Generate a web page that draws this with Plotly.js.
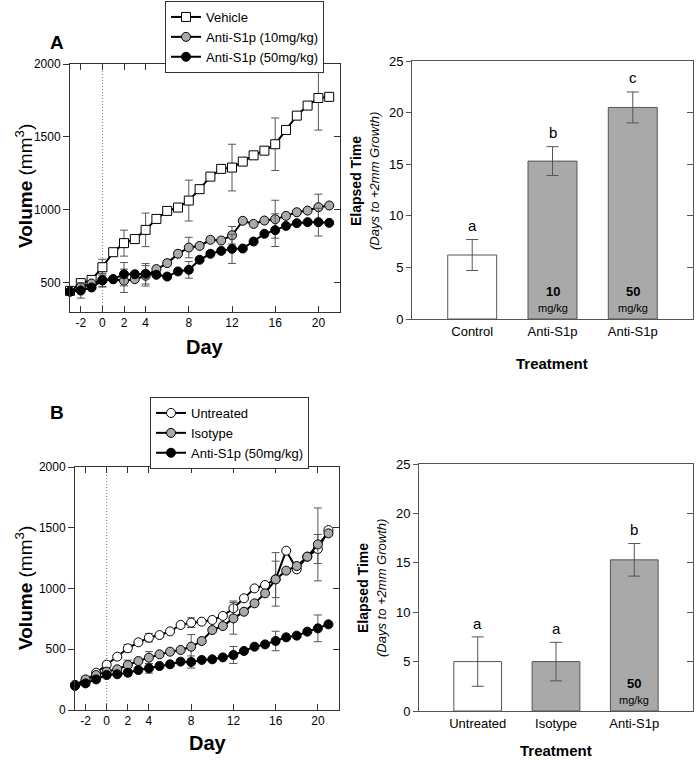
<!DOCTYPE html>
<html>
<head>
<meta charset="utf-8">
<script src="https://cdn.plot.ly/plotly-3.0.1.min.js"></script>
<style>html,body{margin:0;padding:0;background:#fff;}#chart{width:698px;height:761px;}</style>
</head>
<body>
<div id="chart"></div>
<script>
// ---------- DATA ----------
const days = [-3, -2, -1, 0, 1, 2, 3, 4, 5, 6, 7, 8, 9, 10, 11, 12, 13, 14, 15, 16, 17, 18, 19, 20, 21];
const dayTicks = [-2, 0, 2, 4, 8, 12, 16, 20];
const dayTickText = ['-2', '0', '2', '4', '8', '12', '16', '20'];

// Panel A growth curves (mm^3)
const vehicleA    = [445, 498, 520, 607, 710, 772, 800, 863, 938, 993, 1016, 1064, 1142, 1228, 1281, 1290, 1331, 1374, 1406, 1450, 1548, 1646, 1715, 1767, 1775];
const vehicleAErr = [null, 20, null, 55, null, 89, null, 115, null, null, null, 140, null, null, null, 160, null, null, null, 180, null, null, null, 220, null];
const dose10A     = [440, 470, 495, 520, 525, 514, 525, 548, 594, 635, 699, 742, 753, 795, 790, 826, 925, 904, 927, 936, 959, 984, 995, 1018, 1030];
const dose10AErr  = [null, 30, null, 45, null, 80, null, 70, null, null, null, 70, null, null, null, 60, null, null, null, 130, null, null, null, 90, null];
const dose50A     = [440, 447, 468, 516, 525, 559, 559, 562, 555, 543, 578, 589, 658, 699, 719, 733, 735, 783, 836, 861, 890, 909, 916, 916, 911];
const dose50AErr  = [null, 52, null, 45, null, 80, null, 70, null, null, null, 57, null, null, null, 100, null, null, null, 112, null, null, null, 95, null];

// Panel B growth curves (mm^3)
const untreatedB    = [206, 241, 307, 373, 439, 508, 557, 595, 617, 647, 700, 719, 727, 741, 774, 837, 919, 1001, 1029, 1075, 1311, 1158, 1262, 1325, 1481];
const untreatedBErr = [null, 20, null, 25, null, 30, null, 35, null, null, null, 40, null, null, null, 60, null, null, null, 150, null, null, null, 120, null];
const isotypeB      = [206, 252, 288, 316, 335, 370, 403, 431, 458, 480, 494, 521, 568, 658, 691, 754, 809, 878, 960, 1075, 1147, 1185, 1262, 1363, 1454];
const isotypeBErr   = [null, 25, null, 30, null, 40, null, 50, null, null, null, 100, null, null, null, 130, null, null, null, 220, null, null, null, 300, null];
const anti50B       = [198, 219, 252, 288, 294, 307, 329, 343, 362, 376, 398, 395, 412, 417, 433, 453, 486, 521, 540, 568, 598, 612, 645, 672, 705];
const anti50BErr    = [null, 20, null, 20, null, 25, null, 40, null, null, null, 50, null, null, null, 70, null, null, null, 80, null, null, null, 110, null];

// Bar charts: elapsed time (days to +2mm growth)
const barCatsA  = ['Control', 'Anti-S1p', 'Anti-S1p'];
const barMeansA = [6.2, 15.3, 20.5];
const barErrA   = [1.5, 1.4, 1.5];
const lettersA  = ['a', 'b', 'c'];
const dosesA    = ['', '10', '50'];

const barCatsB  = ['Untreated', 'Isotype', 'Anti-S1p'];
const barMeansB = [5.0, 5.0, 15.3];
const barErrB   = [2.5, 1.95, 1.65];
const lettersB  = ['a', 'a', 'b'];
const dosesB    = ['', '', '50'];

// ---------- HELPERS ----------
const W = 698, H = 761;
const px = v => v / W;
const py = v => 1 - v / H;
const FONT = 'Liberation Sans, Arial, Helvetica, sans-serif';
const errArr = a => a.map(v => (v === null ? NaN : v));
const catIdx = a => a.map((_, i) => i);

function lineTrace(y, err, name, fill, symbol, xa, ya, lg) {
  return {
    type: 'scatter', mode: 'lines+markers', x: days, y: y, name: name,
    xaxis: xa, yaxis: ya, legend: lg,
    line: {color: '#000', width: 2},
    marker: {symbol: symbol, size: 9, color: fill, line: {color: '#000', width: 1}},
    error_y: {type: 'data', array: errArr(err), visible: true, color: '#555', thickness: 1, width: 4},
    cliponaxis: false
  };
}

function barTrace(means, err, xa, ya) {
  return {
    type: 'bar', x: catIdx(means), y: means, xaxis: xa, yaxis: ya, width: 0.61,
    marker: {color: means.map((_, i) => i === 0 ? '#ffffff' : '#a9a9a9'), line: {color: '#555', width: 1}},
    error_y: {type: 'data', array: err, visible: true, color: '#555', thickness: 1, width: 6},
    showlegend: false, hoverinfo: 'skip'
  };
}

const data = [
  lineTrace(vehicleA, vehicleAErr, 'Vehicle', '#ffffff', 'square', 'x', 'y', 'legend'),
  lineTrace(dose10A, dose10AErr, 'Anti-S1p (10mg/kg)', '#a9a9a9', 'circle', 'x', 'y', 'legend'),
  lineTrace(dose50A, dose50AErr, 'Anti-S1p (50mg/kg)', '#000000', 'circle', 'x', 'y', 'legend'),
  lineTrace(untreatedB, untreatedBErr, 'Untreated', '#ffffff', 'circle', 'x3', 'y3', 'legend2'),
  lineTrace(isotypeB, isotypeBErr, 'Isotype', '#a9a9a9', 'circle', 'x3', 'y3', 'legend2'),
  lineTrace(anti50B, anti50BErr, 'Anti-S1p (50mg/kg)', '#000000', 'circle', 'x3', 'y3', 'legend2'),
  barTrace(barMeansA, barErrA, 'x2', 'y2'),
  barTrace(barMeansB, barErrB, 'x4', 'y4'),
  // empty traces so right-side tick axes exist
  {type: 'scatter', x: [], y: [], xaxis: 'x', yaxis: 'y5', showlegend: false},
  {type: 'scatter', x: [], y: [], xaxis: 'x2', yaxis: 'y6', showlegend: false},
  {type: 'scatter', x: [], y: [], xaxis: 'x3', yaxis: 'y7', showlegend: false},
  {type: 'scatter', x: [], y: [], xaxis: 'x4', yaxis: 'y8', showlegend: false}
];

// ---------- AXES ----------
const tickFont = {family: FONT, size: 12, color: '#000'};
const domLineA = [px(70), px(340)], domLineAy = [py(312), py(64)];
const domLineB = [px(75), px(339)], domLineBy = [py(710), py(467)];
const domBarA = [px(412), px(693)], domBarAy = [py(319), py(61)];
const domBarB = [px(419), px(693)], domBarBy = [py(711), py(464)];

function dayAxis(dom, anchor) {
  return {domain: dom, anchor: anchor, range: [-3, 22], tickvals: dayTicks, ticktext: dayTickText, ticks: 'inside', ticklen: 6,
    tickcolor: '#333', showline: true, linecolor: '#333', linewidth: 1, mirror: 'ticks',
    showgrid: false, zeroline: false, tickfont: tickFont, fixedrange: true};
}
function volAxis(dom, anchor, range, tv) {
  return {domain: dom, anchor: anchor, range: range, tickvals: tv, ticks: 'outside', ticklen: 6,
    tickcolor: '#333', showline: true, linecolor: '#333', linewidth: 1, mirror: false,
    showgrid: false, zeroline: false, tickfont: tickFont, fixedrange: true};
}
function rightAxis(over, anchor, range, tv, color) {
  return {overlaying: over, side: 'right', anchor: anchor, range: range, tickvals: tv, ticks: 'inside', ticklen: 6,
    tickcolor: color, showline: true, linecolor: color, linewidth: 1, showticklabels: false,
    showgrid: false, zeroline: false, fixedrange: true};
}
function catAxis(dom, anchor, cats) {
  return {domain: dom, anchor: anchor, range: [-0.75, 2.75], tickvals: catIdx(cats), ticktext: cats, ticks: '',
    showline: true, linecolor: '#555', linewidth: 1, mirror: true, showgrid: false, zeroline: false,
    tickfont: {family: FONT, size: 13, color: '#000'}, fixedrange: true};
}
function timeAxis(dom, anchor) {
  return {domain: dom, anchor: anchor, range: [0, 25], tickvals: [0, 5, 10, 15, 20, 25], ticks: 'outside', ticklen: 5,
    tickcolor: '#555', showline: true, linecolor: '#555', linewidth: 1, mirror: false,
    showgrid: false, zeroline: false, tickfont: {family: FONT, size: 13, color: '#000'}, fixedrange: true};
}

// ---------- ANNOTATIONS ----------
const ann = [];
function txt(x, y, text, size, angle, extra) {
  ann.push(Object.assign({xref: 'paper', yref: 'paper', x: px(x), y: py(y), text: text, showarrow: false,
    textangle: angle || 0, xanchor: 'center', yanchor: 'middle',
    font: {family: FONT, size: size, color: '#000'}}, extra || {}));
}
txt(57, 43, '<b>A</b>', 19);
txt(57, 412, '<b>B</b>', 19);
txt(24, 186, '<b>Volume</b> (mm<sup>3</sup>)', 19, -90);
txt(205, 347, '<b>Day</b>', 20);
txt(24, 588, '<b>Volume</b> (mm<sup>3</sup>)', 19, -90);
txt(208, 743, '<b>Day</b>', 20);
txt(356, 181, '<b>Elapsed Time</b>', 14, -90);
txt(374, 181, '<i>(Days to +2mm Growth)</i>', 13, -90);
txt(363, 588, '<b>Elapsed Time</b>', 14, -90);
txt(381, 588, '<i>(Days to +2mm Growth)</i>', 13, -90);
txt(552, 364, '<b>Treatment</b>', 15);
txt(556, 750, '<b>Treatment</b>', 15);

function barNotes(means, err, letters, doses, xa, ya) {
  means.forEach((m, i) => {
    ann.push({xref: xa, yref: ya, x: i, y: m + err[i] + 1.4, text: letters[i], showarrow: false,
      yanchor: 'middle', font: {family: FONT, size: 15, color: '#000'}});
    if (doses[i]) {
      ann.push({xref: xa, yref: ya, x: i, y: 0, text: '<b>' + doses[i] + '</b>', showarrow: false,
        yanchor: 'bottom', yshift: 18, font: {family: FONT, size: 13, color: '#000'}});
      ann.push({xref: xa, yref: ya, x: i, y: 0, text: 'mg/kg', showarrow: false,
        yanchor: 'bottom', yshift: 3, font: {family: FONT, size: 11, color: '#000'}});
    }
  });
}
barNotes(barMeansA, barErrA, lettersA, dosesA, 'x2', 'y2');
barNotes(barMeansB, barErrB, lettersB, dosesB, 'x4', 'y4');

const dotLine = (xa, ya) => ({type: 'line', xref: xa, yref: ya + ' domain', x0: 0, x1: 0, y0: 0, y1: 1,
  layer: 'below', line: {color: '#777', width: 1, dash: '1px,2px'}});

const legendBase = {xanchor: 'left', yanchor: 'top', bgcolor: '#fff', bordercolor: '#333', borderwidth: 1,
  font: {family: FONT, size: 13, color: '#000'}, tracegroupgap: 0};

const layout = {
  width: W, height: H, margin: {l: 0, r: 0, t: 0, b: 0}, paper_bgcolor: '#fff', plot_bgcolor: 'rgba(0,0,0,0)',
  font: {family: FONT, color: '#000'}, showlegend: true, barmode: 'group',
  xaxis: dayAxis(domLineA, 'y'),
  yaxis: volAxis(domLineAy, 'x', [300, 2000], [500, 1000, 1500, 2000]),
  yaxis5: rightAxis('y', 'x', [300, 2000], [500, 1000, 1500, 2000], '#333'),
  xaxis2: catAxis(domBarA, 'y2', barCatsA),
  yaxis2: timeAxis(domBarAy, 'x2'),
  yaxis6: rightAxis('y2', 'x2', [0, 25], [0, 5, 10, 15, 20, 25], '#555'),
  xaxis3: dayAxis(domLineB, 'y3'),
  yaxis3: volAxis(domLineBy, 'x3', [0, 2000], [0, 500, 1000, 1500, 2000]),
  yaxis7: rightAxis('y3', 'x3', [0, 2000], [0, 500, 1000, 1500, 2000], '#333'),
  xaxis4: catAxis(domBarB, 'y4', barCatsB),
  yaxis4: timeAxis(domBarBy, 'x4'),
  yaxis8: rightAxis('y4', 'x4', [0, 25], [0, 5, 10, 15, 20, 25], '#555'),
  legend: Object.assign({x: px(165), y: py(1)}, legendBase),
  legend2: Object.assign({x: px(150), y: py(397)}, legendBase),
  annotations: ann,
  shapes: [dotLine('x', 'y'), dotLine('x3', 'y3')]
};

Plotly.newPlot('chart', data, layout, {displayModeBar: false, staticPlot: true});
</script>
</body>
</html>
